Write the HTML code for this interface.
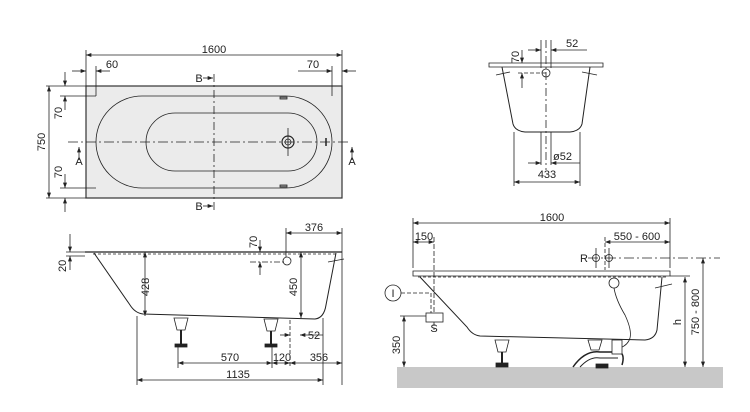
<!DOCTYPE html>
<html><head><meta charset="utf-8"><style>
html,body{margin:0;padding:0;background:#fff;}
svg{display:block;}
text{font-family:"Liberation Sans",sans-serif;font-size:11px;fill:#222;}
</style></head><body>
<svg width="750" height="412" viewBox="0 0 750 412" xmlns="http://www.w3.org/2000/svg">
<defs>
<marker id="a" viewBox="0 0 8 6" refX="8" refY="3" markerWidth="7" markerHeight="5" orient="auto-start-reverse"><path d="M0,0 L8,3 L0,6 z" fill="#222"/></marker>
</defs>
<g stroke="#222" stroke-width="0.8" fill="none">
<!-- TOP VIEW -->
<rect x="86" y="86" width="256" height="112" fill="#ebebeb" stroke="#333" stroke-width="1.2"/>
<rect x="96" y="96" width="236" height="92" rx="46" ry="46"/>
<rect x="146" y="113" width="171" height="58" rx="29" ry="29"/>
<line x1="68" y1="142" x2="350" y2="142" stroke-dasharray="10,3,2,3"/>
<line x1="214" y1="74" x2="214" y2="210" stroke-dasharray="8,3,2,3"/>
<circle cx="288" cy="142" r="6" stroke-width="1.2"/><circle cx="288" cy="142" r="3"/>
<line x1="288" y1="128" x2="288" y2="156"/>
<line x1="326" y1="138" x2="326" y2="146" stroke-width="1.5"/>
<rect x="280" y="97" width="7" height="2" fill="#999"/><rect x="280" y="185" width="7" height="2" fill="#999"/>
<line x1="86" y1="50" x2="86" y2="86"/><line x1="342" y1="50" x2="342" y2="86"/>
<line x1="86" y1="55" x2="342" y2="55" marker-start="url(#a)" marker-end="url(#a)"/>
<line x1="96" y1="66" x2="96" y2="96"/><line x1="332" y1="66" x2="332" y2="96"/>
<line x1="72" y1="71" x2="86" y2="71" marker-end="url(#a)"/><line x1="110" y1="71" x2="96" y2="71" marker-end="url(#a)"/>
<line x1="298" y1="71" x2="332" y2="71" marker-end="url(#a)"/><line x1="356" y1="71" x2="342" y2="71" marker-end="url(#a)"/>
<line x1="46" y1="86" x2="86" y2="86"/><line x1="46" y1="198" x2="86" y2="198"/>
<line x1="60" y1="96" x2="96" y2="96"/><line x1="60" y1="188" x2="96" y2="188"/>
<line x1="49" y1="86" x2="49" y2="198" marker-start="url(#a)" marker-end="url(#a)"/>
<line x1="65" y1="72" x2="65" y2="86" marker-end="url(#a)"/><line x1="65" y1="110" x2="65" y2="96" marker-end="url(#a)"/>
<line x1="65" y1="174" x2="65" y2="188" marker-end="url(#a)"/><line x1="65" y1="212" x2="65" y2="198" marker-end="url(#a)"/>
<line x1="79" y1="160" x2="79" y2="147" marker-end="url(#a)"/><line x1="352" y1="160" x2="352" y2="147" marker-end="url(#a)"/>
<line x1="203" y1="78" x2="213" y2="78" marker-end="url(#a)"/><line x1="203" y1="206" x2="213" y2="206" marker-end="url(#a)"/>

<!-- END VIEW -->
<path d="M489,63 L603,63 L603,67 L489,67 z"/>
<path d="M502,67 L513,124 Q515,131 525,132 L570,132 Q580,131 582,124 L590,67" stroke-width="1"/>
<line x1="496" y1="75" x2="510" y2="72"/><line x1="582" y1="72" x2="597" y2="75"/>
<line x1="546" y1="40" x2="546" y2="170" stroke-dasharray="8,3,2,3"/>
<circle cx="546" cy="73" r="4"/>
<line x1="541" y1="40" x2="541" y2="68"/><line x1="551" y1="40" x2="551" y2="68"/>
<line x1="528" y1="50" x2="541" y2="50" marker-end="url(#a)"/><line x1="587" y1="50" x2="551" y2="50" marker-end="url(#a)"/>
<line x1="522" y1="50" x2="522" y2="63" marker-end="url(#a)"/><line x1="522" y1="88" x2="522" y2="73" marker-end="url(#a)"/>
<line x1="518" y1="73" x2="546" y2="73" stroke-dasharray="4,2"/>
<line x1="541" y1="132" x2="541" y2="165"/><line x1="551" y1="132" x2="551" y2="165"/>
<line x1="528" y1="163" x2="541" y2="163" marker-end="url(#a)"/><line x1="580" y1="163" x2="551" y2="163" marker-end="url(#a)"/>
<line x1="514" y1="132" x2="514" y2="186"/><line x1="580" y1="132" x2="580" y2="186"/>
<line x1="514" y1="182" x2="580" y2="182" marker-start="url(#a)" marker-end="url(#a)"/>

<!-- SIDE VIEW LEFT -->
<line x1="85" y1="252" x2="342" y2="252" stroke-width="1.3"/>
<line x1="93" y1="254" x2="338" y2="254" stroke-dasharray="3,2"/>
<path d="M94,253 L130,305 Q135,313 143,314 L315,319 Q324,318 326,305 L336,253" stroke-width="1"/>
<line x1="328" y1="262" x2="344" y2="259"/>
<path d="M174,318 h14 l-3,12 h-8 z" fill="#fff"/><line x1="181" y1="330" x2="181" y2="345" stroke-width="2"/><rect x="175" y="344" width="12" height="3" fill="#222"/>
<path d="M264,319 h14 l-3,12 h-8 z" fill="#fff"/><line x1="271" y1="331" x2="271" y2="345" stroke-width="2"/><rect x="265" y="344" width="12" height="3" fill="#222"/>
<line x1="70" y1="234" x2="70" y2="252" marker-end="url(#a)"/><line x1="70" y1="270" x2="70" y2="256" marker-end="url(#a)"/>
<line x1="66" y1="252" x2="85" y2="252"/><line x1="66" y1="256" x2="85" y2="256"/>
<line x1="145" y1="252" x2="145" y2="316" marker-start="url(#a)" marker-end="url(#a)"/>
<line x1="301" y1="252" x2="301" y2="318" marker-start="url(#a)" marker-end="url(#a)"/>
<line x1="260" y1="240" x2="260" y2="252" marker-end="url(#a)"/><line x1="260" y1="275" x2="260" y2="262" marker-end="url(#a)"/>
<line x1="250" y1="262" x2="286" y2="262" stroke-dasharray="6,2,2,2"/>
<circle cx="287" cy="261" r="4"/>
<line x1="286" y1="228" x2="286" y2="257"/><line x1="342" y1="228" x2="342" y2="385"/>
<line x1="286" y1="233" x2="342" y2="233" marker-start="url(#a)" marker-end="url(#a)"/>
<line x1="290" y1="320" x2="290" y2="368" stroke-dasharray="4,2"/><line x1="323" y1="318" x2="323" y2="385"/>
<line x1="280" y1="335" x2="290" y2="335" marker-end="url(#a)"/><line x1="323" y1="335" x2="300" y2="335" marker-end="url(#a)"/>
<line x1="137" y1="316" x2="137" y2="385"/><line x1="178" y1="347" x2="178" y2="368"/><line x1="272" y1="347" x2="272" y2="368"/>
<line x1="178" y1="363" x2="272" y2="363" marker-start="url(#a)" marker-end="url(#a)"/>
<line x1="272" y1="363" x2="290" y2="363" marker-start="url(#a)" marker-end="url(#a)"/>
<line x1="290" y1="363" x2="342" y2="363" marker-start="url(#a)" marker-end="url(#a)"/>
<line x1="137" y1="380" x2="323" y2="380" marker-start="url(#a)" marker-end="url(#a)"/>

<!-- SIDE VIEW RIGHT -->
<rect x="397" y="367" width="326" height="21" fill="#c8c8c8" stroke="none"/>
<path d="M413,271 L670,271 L670,276 L413,276 z" fill="#fff"/>
<line x1="418" y1="277" x2="668" y2="277" stroke-dasharray="3,2"/>
<path d="M420,277 L467,327 Q472,335 480,336 L645,340 Q655,339 657,330 L662,277" stroke-width="1"/>
<line x1="655" y1="288" x2="672" y2="284"/>
<circle cx="614" cy="283" r="5"/>
<path d="M614,288 Q616,300 625,315 Q632,330 630,338 Q628,345 620,348" />
<path d="M588,340 h14 l-3,10 h-8 z" fill="#fff"/>
<path d="M495,340 h14 l-3,12 h-8 z" fill="#fff"/><line x1="502" y1="352" x2="502" y2="364" stroke-width="2"/><rect x="496" y="363" width="12" height="4" fill="#222"/>
<rect x="596" y="364" width="12" height="4" fill="#222"/>
<path d="M573,367 Q585,350 600,352 L620,352 Q625,355 622,365" stroke-width="1.5"/>
<path d="M580,367 Q590,356 600,358 L618,358" stroke-width="1"/>
<rect x="612" y="340" width="10" height="14" fill="#fff"/>
<line x1="413" y1="218" x2="413" y2="268"/><line x1="670" y1="218" x2="670" y2="268"/>
<line x1="413" y1="223" x2="670" y2="223" marker-start="url(#a)" marker-end="url(#a)"/>
<line x1="434" y1="237" x2="434" y2="330" stroke-dasharray="5,2"/>
<line x1="413" y1="242" x2="434" y2="242" marker-start="url(#a)" marker-end="url(#a)"/>
<line x1="605" y1="237" x2="605" y2="270" stroke-dasharray="4,2"/>
<line x1="605" y1="242" x2="670" y2="242" marker-start="url(#a)" marker-end="url(#a)"/>
<circle cx="596" cy="258" r="3.5"/><circle cx="609" cy="258" r="3.5"/>
<line x1="596" y1="248" x2="596" y2="268"/><line x1="609" y1="248" x2="609" y2="268"/>
<line x1="588" y1="258" x2="720" y2="258" stroke-dasharray="10,3,2,3"/>
<line x1="670" y1="276" x2="690" y2="276"/>
<line x1="685" y1="277" x2="685" y2="367" marker-start="url(#a)" marker-end="url(#a)"/>
<line x1="703" y1="258" x2="703" y2="367" marker-start="url(#a)" marker-end="url(#a)"/>
<circle cx="393" cy="293" r="8" fill="#fff"/>
<line x1="401" y1="293" x2="431" y2="293" stroke-dasharray="4,2"/><line x1="431" y1="293" x2="431" y2="313" stroke-dasharray="4,2"/>
<rect x="426" y="313" width="17" height="9" fill="#fff"/>
<line x1="400" y1="316" x2="426" y2="316"/>
<line x1="404" y1="316" x2="404" y2="367" marker-start="url(#a)" marker-end="url(#a)"/>
</g>
<g>
<text x="214" y="53" text-anchor="middle">1600</text>
<text x="112" y="68" text-anchor="middle">60</text>
<text x="313" y="68" text-anchor="middle">70</text>
<text x="0" y="0" transform="translate(45,142) rotate(-90)" text-anchor="middle">750</text>
<text x="0" y="0" transform="translate(62,113) rotate(-90)" text-anchor="middle">70</text>
<text x="0" y="0" transform="translate(62,172) rotate(-90)" text-anchor="middle">70</text>
<text x="79" y="165" text-anchor="middle">A</text><text x="352" y="165" text-anchor="middle">A</text>
<text x="199" y="82" text-anchor="middle">B</text><text x="199" y="210" text-anchor="middle">B</text>
<text x="566" y="47">52</text>
<text x="0" y="0" transform="translate(519,57) rotate(-90)" text-anchor="middle">70</text>
<text x="553" y="160">ø52</text>
<text x="547" y="178" text-anchor="middle">433</text>
<text x="314" y="231" text-anchor="middle">376</text>
<text x="0" y="0" transform="translate(257,248) rotate(-90)">70</text>
<text x="0" y="0" transform="translate(66,272) rotate(-90)">20</text>
<text x="0" y="0" transform="translate(149,287) rotate(-90)" text-anchor="middle">428</text>
<text x="0" y="0" transform="translate(297,287) rotate(-90)" text-anchor="middle">450</text>
<text x="314" y="339" text-anchor="middle">52</text>
<text x="230" y="361" text-anchor="middle">570</text>
<text x="282" y="361" text-anchor="middle">120</text>
<text x="319" y="361" text-anchor="middle">356</text>
<text x="238" y="378" text-anchor="middle">1135</text>
<text x="552" y="221" text-anchor="middle">1600</text>
<text x="424" y="240" text-anchor="middle">150</text>
<text x="637" y="240" text-anchor="middle">550 - 600</text>
<text x="584" y="262" text-anchor="middle" font-size="12">R</text>
<text x="393" y="297" text-anchor="middle">I</text>
<text x="434" y="332" text-anchor="middle" font-size="12">S</text>
<text x="0" y="0" transform="translate(400,345) rotate(-90)" text-anchor="middle">350</text>
<text x="0" y="0" transform="translate(681,322) rotate(-90)" text-anchor="middle">h</text>
<text x="0" y="0" transform="translate(699,312) rotate(-90)" text-anchor="middle">750 - 800</text>
</g>
</svg>
</body></html>
